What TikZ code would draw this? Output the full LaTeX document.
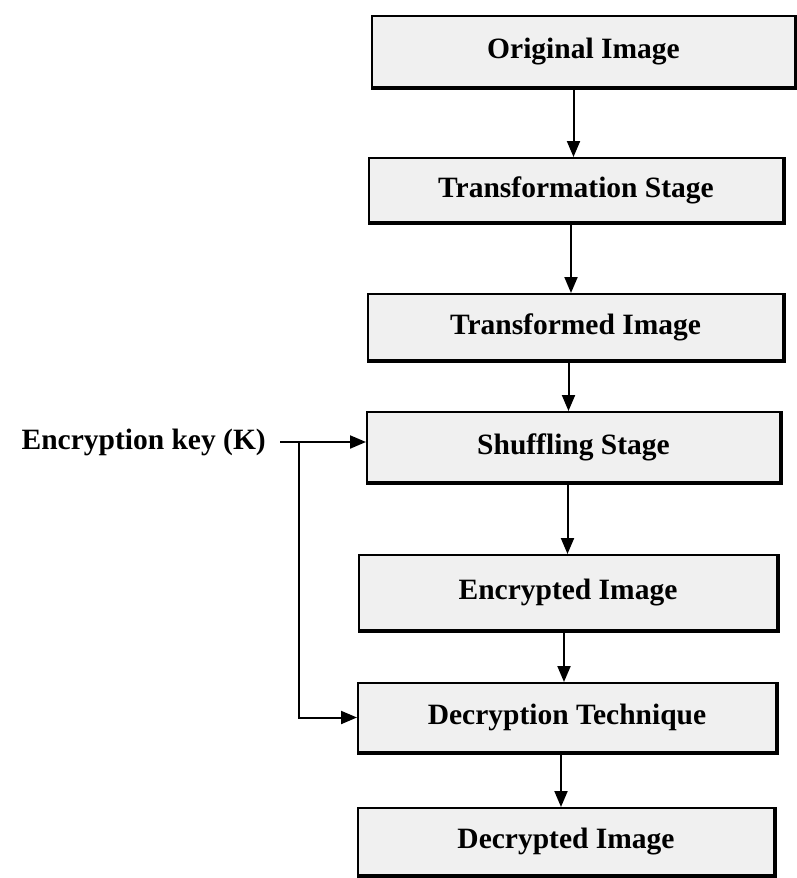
\documentclass[tikz,border=0pt]{standalone}
\usepackage{fontspec}
\setmainfont{Liberation Serif}
\usetikzlibrary{arrows.meta}
\begin{document}
\begin{tikzpicture}[x=1pt,y=-1pt,
  stagebox/.style={draw=black, line width=2pt, fill=gray!12, inner sep=0pt,
    font=\bfseries\fontsize{29.5}{32}\selectfont},
  keylabel/.style={inner sep=0pt, font=\bfseries\fontsize{29.5}{32}\selectfont},
  conn/.style={line width=2pt, draw=black},
  arr/.style={conn, -{Triangle[width=13pt,length=16pt]}},
  edge/.style={line width=3pt, draw=black}]
\useasboundingbox (0,0) rectangle (796,878);
\fill[white] (0,0) rectangle (796,878);

\node[stagebox, minimum width=423pt, minimum height=71pt] (b1) at (583.5,51.5) {Original Image};
\node[stagebox, minimum width=414pt, minimum height=64pt] (b2) at (576,190) {Transformation Stage};
\node[stagebox, minimum width=415pt, minimum height=66pt] (b3) at (575.5,327) {Transformed Image};
\node[stagebox, minimum width=413pt, minimum height=70pt] (b4) at (573.5,447) {Shuffling Stage};
\node[stagebox, minimum width=418pt, minimum height=75pt] (b5) at (568,592.5) {Encrypted Image};
\node[stagebox, minimum width=418pt, minimum height=69pt] (b6) at (567,717.5) {Decryption Technique};
\node[stagebox, minimum width=416pt, minimum height=67pt] (b7) at (566,841.5) {Decrypted Image};

\foreach \b in {b1,b2,b3,b4,b5,b6,b7}{
  \draw[edge] (\b.south west) -- (\b.south east) -- (\b.north east);
}

\node[keylabel, anchor=east] (key) at (266,442) {Encryption key (K)};
\coordinate (kstart) at (280,442);
\coordinate (kjoin) at (299,442);

\draw[arr] ([xshift=-10pt]b1.south) -- ([xshift=-10pt]b1.south |- b2.north);
\draw[arr] ([xshift=-5pt]b2.south) -- ([xshift=-5pt]b2.south |- b3.north);
\draw[arr] ([xshift=-7pt]b3.south) -- ([xshift=-7pt]b3.south |- b4.north);
\draw[arr] ([xshift=-6pt]b4.south) -- ([xshift=-6pt]b4.south |- b5.north);
\draw[arr] ([xshift=-4pt]b5.south) -- ([xshift=-4pt]b5.south |- b6.north);
\draw[arr] ([xshift=-6pt]b6.south) -- ([xshift=-6pt]b6.south |- b7.north);

\draw[arr] (kstart) -- (kstart -| b4.west);
\draw[arr] (kjoin) |- (b6.west);
\end{tikzpicture}
\end{document}
